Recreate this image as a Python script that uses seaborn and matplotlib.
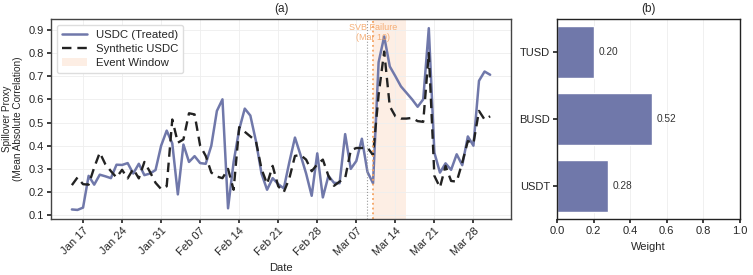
import pandas as pd
import matplotlib
matplotlib.use("Agg")
import matplotlib.pyplot as plt
import matplotlib.dates as mdates
import seaborn as sns

# Daily spillover proxy, Jan 15 - Mar 31 2023
start_date = "2023-01-15"
treated = [0.125, 0.123, 0.133, 0.27, 0.232, 0.275, 0.268, 0.26, 0.318, 0.317, 0.325, 0.28, 0.322, 0.273, 0.28, 0.295,
           0.40, 0.465, 0.41, 0.19, 0.405, 0.33, 0.355, 0.325, 0.322, 0.40, 0.55, 0.60, 0.13, 0.33, 0.47, 0.56, 0.53, 0.42,
           0.28, 0.21, 0.26, 0.234, 0.216, 0.33, 0.435, 0.36, 0.28, 0.184, 0.367, 0.177, 0.27, 0.24, 0.238, 0.45, 0.30,
           0.334, 0.43, 0.287, 0.238,
           0.76, 0.871, 0.742, 0.70, 0.656, 0.628, 0.60, 0.568, 0.60, 0.907, 0.37, 0.284, 0.324, 0.296, 0.363, 0.316,
           0.44, 0.40, 0.68, 0.72, 0.706]
synthetic = [0.23, 0.263, 0.234, 0.232, 0.306, 0.37, 0.32, 0.29, 0.263, 0.296, 0.259, 0.30, 0.259, 0.33, 0.287, 0.24,
             0.213, 0.225, 0.513, 0.413, 0.427, 0.54, 0.535, 0.40, 0.356, 0.284, 0.267, 0.26, 0.30, 0.21, 0.48, 0.46,
             0.44, 0.42,
             0.30, 0.235, 0.313, 0.225, 0.20, 0.26, 0.356, 0.36, 0.34, 0.29, 0.32, 0.34, 0.27, 0.227, 0.245, 0.26, 0.38,
             0.39, 0.39, 0.392, 0.36,
             0.62, 0.806, 0.57, 0.527, 0.517, 0.517, 0.52, 0.506, 0.503, 0.80, 0.27, 0.22, 0.313, 0.248, 0.245, 0.327,
             0.42, 0.41, 0.55, 0.513, 0.527]

event_start = "2023-03-10"
event_end = "2023-03-16"
pre_cutoff = "2023-03-09"

# Synthetic control donor weights
donors = ["TUSD", "BUSD", "USDT"]
weights = [0.20, 0.52, 0.28]

BLUE = "#7078aa"
ORANGE = "#f4a261"

sns.set_theme(style="ticks")
plt.rcParams["font.family"] = ["Liberation Sans", "DejaVu Sans"]

df = pd.DataFrame({
    "Date": pd.date_range(start_date, periods=len(treated), freq="D"),
    "Treated": treated,
    "Synthetic": synthetic,
})

fig = plt.figure(figsize=(7.53, 2.75), dpi=100)
ax1 = fig.add_axes([0.0677, 0.2036, 0.611, 0.727])
ax2 = fig.add_axes([0.7397, 0.2036, 0.243, 0.727])

# (a) treated vs synthetic
sns.lineplot(x="Date", y="Treated", data=df, ax=ax1, color=BLUE, lw=1.8, label="USDC (Treated)")
sns.lineplot(x="Date", y="Synthetic", data=df, ax=ax1, color="#222222", lw=1.7,
             linestyle=(0, (4, 2.5)), label="Synthetic USDC")
ax1.axvspan(pd.Timestamp(event_start), pd.Timestamp(event_end), color="#fde3d3", alpha=0.6,
            lw=0, label="Event Window", zorder=0)
ax1.axvline(pd.Timestamp(pre_cutoff), color="#999999", lw=0.8, linestyle=":")
ax1.axvline(pd.Timestamp(event_start), color=ORANGE, lw=1.3, linestyle=":")
ax1.text(pd.Timestamp(event_start), 0.93, "SVB Failure\n(Mar 10)", color=ORANGE, alpha=0.85,
         fontsize=6.5, ha="center", va="top", linespacing=1.1)

ax1.set_yticks([0.1, 0.2, 0.3, 0.4, 0.5, 0.6, 0.7, 0.8, 0.9])
ax1.xaxis.set_major_locator(mdates.WeekdayLocator(byweekday=mdates.TU))
ax1.xaxis.set_major_formatter(mdates.DateFormatter("%b %d"))
plt.setp(ax1.get_xticklabels(), rotation=45, ha="right", rotation_mode="anchor")
ax1.tick_params(labelsize=8, length=3, pad=2)
ax1.set_xlabel("Date", fontsize=8)
ax1.set_ylabel("Spillover Proxy\n(Mean Absolute Correlation)", fontsize=7.2, labelpad=4)
ax1.set_title("(a)", fontsize=8.5, pad=5)
ax1.grid(True, color="#eeeeee", lw=0.6)
ax1.legend(loc="upper left", fontsize=8.2, frameon=True, framealpha=1, edgecolor="#dddddd",
           handlelength=2.2, borderpad=0.45, labelspacing=0.35)
for s in ax1.spines.values():
    s.set_color("#444444")
    s.set_linewidth(1.0)

# (b) donor weights
sns.barplot(x=weights, y=donors, ax=ax2, color=BLUE, width=0.78, saturation=1)
for i, w in enumerate(weights):
    ax2.text(w + 0.025, i, f"{w:.2f}", va="center", ha="left", fontsize=7.3, color="#333333")
ax2.set_xlim(0, 1)
ax2.set_xticks([0.0, 0.2, 0.4, 0.6, 0.8, 1.0])
ax2.tick_params(labelsize=8, length=3, pad=2)
ax2.set_xlabel("Weight", fontsize=8)
ax2.set_ylabel("")
ax2.set_title("(b)", fontsize=8.5, pad=5)
ax2.grid(True, axis="x", color="#eeeeee", lw=0.6)
ax2.set_axisbelow(True)
for s in ax2.spines.values():
    s.set_color("#222222")
    s.set_linewidth(1.0)

fig.savefig("out.png", dpi=100)
